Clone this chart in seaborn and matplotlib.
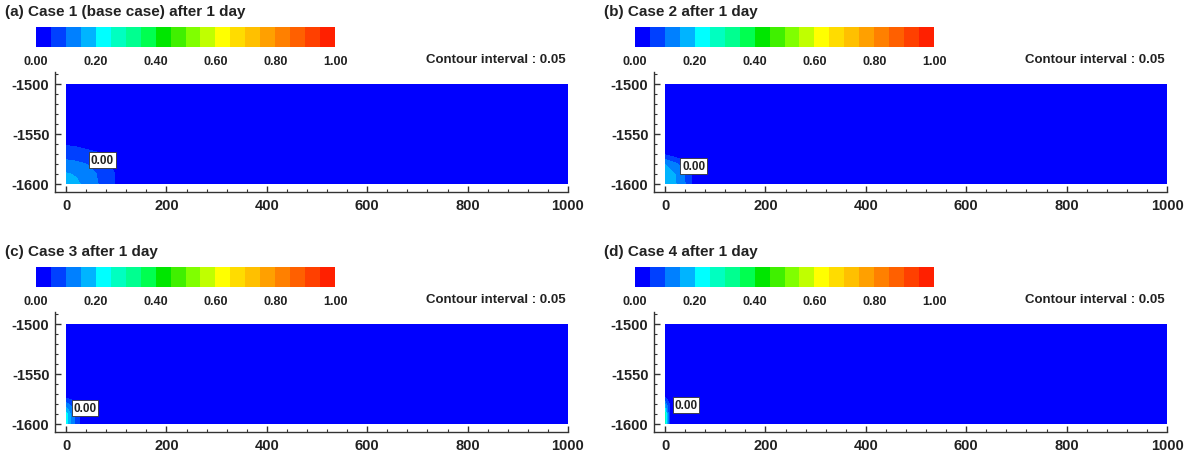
import numpy as np
import matplotlib
matplotlib.use('Agg')
import matplotlib.pyplot as plt
from matplotlib.colors import ListedColormap
from matplotlib.ticker import MultipleLocator
import seaborn as sns

# ---- data ----
titles = ['(a) Case 1 (base case) after 1 day', '(b) Case 2 after 1 day',
          '(c) Case 3 after 1 day', '(d) Case 4 after 1 day']
levels = np.round(np.arange(0, 1.0001, 0.05), 2)
band_colors = ['#0000ff', '#0040ff', '#0080ff', '#00b4ff', '#00ffff', '#00ffc0', '#00ff90',
               '#00ff50', '#00e600', '#40f000', '#80ff00', '#c0ff00', '#ffff00', '#ffdc00',
               '#ffc000', '#ffa000', '#ff8000', '#ff6000', '#ff4000', '#ff2000']
cbar_ticks = [0.0, 0.2, 0.4, 0.6, 0.8, 1.0]

# grid rows (depth) shared by all cases, bottom -> top
y_rows = [-1600, -1590, -1580, -1570, -1560, -1550]

case1_x = [0, 20, 40, 60, 80, 100, 120]
case1_v = [[0.18, 0.16, 0.135, 0.105, 0.08, 0.045, 0],
           [0.155, 0.145, 0.125, 0.10, 0.075, 0.045, 0],
           [0.115, 0.11, 0.10, 0.085, 0.065, 0.03, 0],
           [0.08, 0.075, 0.068, 0.058, 0.04, 0.0, 0],
           [0.045, 0.04, 0.03, 0.02, 0.0, 0, 0],
           [0, 0, 0, 0, 0, 0, 0]]

case2_x = [0, 10, 20, 30, 40, 50, 60]
case2_v = [[0.19, 0.17, 0.155, 0.13, 0.10, 0.07, 0],
           [0.18, 0.165, 0.15, 0.125, 0.095, 0.065, 0],
           [0.15, 0.13, 0.11, 0.09, 0.07, 0.04, 0],
           [0.04, 0.03, 0.02, 0.01, 0, 0, 0],
           [0, 0, 0, 0, 0, 0, 0],
           [0, 0, 0, 0, 0, 0, 0]]

case3_x = [0, 5, 10, 15, 20, 25, 30]
case3_v = [[0.23, 0.19, 0.145, 0.11, 0.085, 0.065, 0],
           [0.22, 0.18, 0.14, 0.105, 0.08, 0.06, 0],
           [0.12, 0.10, 0.085, 0.07, 0.06, 0.05, 0],
           [0, 0, 0, 0, 0, 0, 0],
           [0, 0, 0, 0, 0, 0, 0],
           [0, 0, 0, 0, 0, 0, 0]]

case4_x = [0, 2, 4, 6, 8, 10, 12]
case4_v = [[0.28, 0.22, 0.16, 0.11, 0.07, 0.03, 0],
           [0.27, 0.21, 0.15, 0.105, 0.065, 0.03, 0],
           [0.14, 0.11, 0.09, 0.07, 0.05, 0.02, 0],
           [0, 0, 0, 0, 0, 0, 0],
           [0, 0, 0, 0, 0, 0, 0],
           [0, 0, 0, 0, 0, 0, 0]]

cases = [(case1_x, case1_v), (case2_x, case2_v), (case3_x, case3_v), (case4_x, case4_v)]
label_pos = [(72, -1576), (57, -1582), (38, -1584), (42, -1581)]  # "0.00" contour labels

# ---- style ----
sns.set_style('ticks')
plt.rcParams['font.family'] = ['Liberation Sans', 'DejaVu Sans']
plt.rcParams['font.weight'] = 'bold'
plt.rcParams['axes.unicode_minus'] = False
txt_color = '#222222'

W, H = 1191, 456
fig = plt.figure(figsize=(W / 100, H / 100), dpi=100)
cmap = ListedColormap(band_colors)


def px_axes(left, top, right, bottom):
    return fig.add_axes([left / W, 1 - bottom / H, (right - left) / W, (bottom - top) / H])


for i, ((xc, vc), title) in enumerate(zip(cases, titles)):
    dx = 599 * (i % 2)
    dy = 240 * (i // 2)

    # full grid: corner table padded with zeros out to the domain edge
    x = np.append(xc, 1000)
    y = np.append(y_rows, -1500)
    Z = np.pad(np.array(vc, dtype=float), ((0, 1), (0, 1)))

    ax = px_axes(55 + dx, 73 + dy, 568 + dx, 193 + dy)
    cs = ax.contourf(x, y, Z, levels=levels, cmap=cmap)
    ax.set_xlim(-22, 1000)
    ax.set_ylim(-1608, -1488)
    sns.despine(ax=ax)
    for s in ['left', 'bottom']:
        ax.spines[s].set_color('#333333')
        ax.spines[s].set_linewidth(1.0)
    ax.xaxis.set_major_locator(MultipleLocator(200))
    ax.xaxis.set_minor_locator(MultipleLocator(40))
    ax.set_yticks([-1600, -1550, -1500])
    ax.yaxis.set_minor_locator(MultipleLocator(10))
    ax.tick_params(which='major', direction='in', length=4, width=1, colors='#333333',
                   labelsize=10.5, labelcolor=txt_color, pad=4)
    ax.tick_params(which='minor', direction='in', length=2, width=0.8, colors='#333333')
    for lab in ax.get_xticklabels() + ax.get_yticklabels():
        lab.set_fontweight('bold')

    lx, ly = label_pos[i]
    ax.text(lx, ly, '0.00', fontsize=8.5, fontweight='bold', color=txt_color,
            ha='center', va='center',
            bbox=dict(boxstyle='square,pad=0.15', fc='white', ec='#333333', lw=0.6))

    # colour bar
    cax = px_axes(36 + dx, 28 + dy, 335 + dx, 48 + dy)
    cb = fig.colorbar(cs, cax=cax, orientation='horizontal', ticks=cbar_ticks)
    cb.outline.set_visible(False)
    cb.ax.set_xticklabels(['%.2f' % t for t in cbar_ticks], fontsize=9,
                          fontweight='bold', color=txt_color)
    cb.ax.tick_params(length=0, pad=6)

    fig.text((5 + dx) / W, 1 - (12 + dy) / H, title, fontsize=11, fontweight='bold',
             color=txt_color, ha='left', va='center')
    fig.text((566 + dx) / W, 1 - (60 + dy) / H, 'Contour interval : 0.05', fontsize=9.5,
             fontweight='bold', color=txt_color, ha='right', va='center')

fig.savefig('out.png', dpi=100)
